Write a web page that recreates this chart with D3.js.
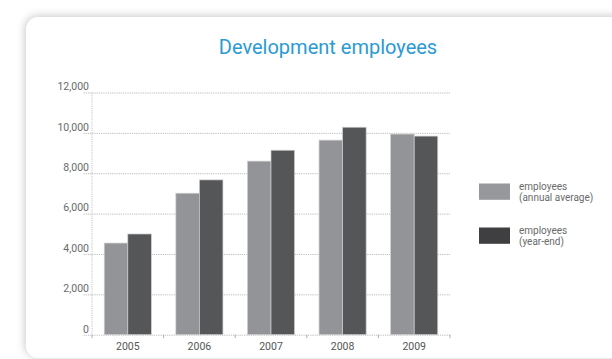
<!DOCTYPE html>
<html>
<head>
<meta charset="utf-8">
<script src="https://cdn.jsdelivr.net/npm/d3@7"></script>
<style>
  html, body { margin: 0; padding: 0; background: #ffffff; }
  svg { display: block; }
</style>
</head>
<body>
<svg id="chart" width="612" height="359"></svg>
<script>
// Development headcount per year
const years = ["2005", "2006", "2007", "2008", "2009"];
const annualAverage = [4540, 7010, 8600, 9640, 9940];
const yearEnd = [4990, 7670, 9140, 10280, 9840];
const yTicks = [0, 2000, 4000, 6000, 8000, 10000, 12000];
const seriesNames = [["employees", "(annual average)"], ["employees", "(year-end)"]];

const svg = d3.select("#chart");
const defs = svg.append("defs");

const shadow = defs.append("filter").attr("id", "cardShadow")
  .attr("x", "-10%").attr("y", "-10%").attr("width", "130%").attr("height", "130%");
shadow.append("feDropShadow")
  .attr("dx", -1).attr("dy", -1).attr("stdDeviation", 4)
  .attr("flood-color", "#000").attr("flood-opacity", 0.22);

// card panel
svg.append("rect")
  .attr("x", 26).attr("y", 17)
  .attr("width", 640).attr("height", 341)
  .attr("rx", 13).attr("ry", 13)
  .attr("fill", "#ffffff")
  .attr("filter", "url(#cardShadow)");

const font = "Roboto, 'Liberation Sans', sans-serif";
const textGray = "#6a6a6a";

// title
svg.append("text")
  .attr("x", 328).attr("y", 54)
  .attr("text-anchor", "middle")
  .attr("font-family", font)
  .attr("font-size", 20)
  .attr("fill", "#2b9ad4")
  .text("Development employees");

const plot = { left: 92, right: 450, top: 92.5, bottom: 334.7 };

const x = d3.scaleBand().domain(years).range([plot.left, plot.right]).paddingInner(0).paddingOuter(0);
const inner = d3.scaleBand().domain([0, 1]).range([0, x.bandwidth()]).paddingInner(0).paddingOuter(0.52);
const y = d3.scaleLinear().domain([0, 12000]).range([plot.bottom, plot.top]);

// horizontal gridlines with y labels
const yAxis = d3.axisLeft(y).tickValues(yTicks).tickSize(0).tickFormat(d3.format(","));
const gy = svg.append("g").attr("transform", `translate(${plot.left},0)`).call(yAxis);
gy.select(".domain").remove();
gy.selectAll(".tick text")
  .attr("x", -3).attr("dy", "-0.25em")
  .attr("font-family", font).attr("font-size", 10.5)
  .attr("fill", textGray);
gy.selectAll(".tick").append("line")
  .attr("x1", -8.5).attr("x2", plot.right - plot.left)
  .attr("stroke", "#a9a9a9").attr("stroke-width", 0.8)
  .attr("stroke-dasharray", "1.2,1");

// vertical dotted axis line
svg.append("line")
  .attr("x1", plot.left).attr("x2", plot.left)
  .attr("y1", plot.top).attr("y2", plot.bottom)
  .attr("stroke", "#c4c4c4").attr("stroke-width", 1)
  .attr("stroke-dasharray", "1.2,1");

// bars
const colors = ["#939497", "#555658"];
const groups = svg.append("g").selectAll("g")
  .data(years.map((yr, i) => ({ yr, vals: [annualAverage[i], yearEnd[i]] })))
  .join("g")
  .attr("transform", d => `translate(${x(d.yr)},0)`);
groups.selectAll("rect")
  .data(d => d.vals.map((v, k) => ({ v, k })))
  .join("rect")
  .attr("x", d => inner(d.k))
  .attr("width", inner.bandwidth())
  .attr("y", d => y(d.v))
  .attr("height", d => y(0) - y(d.v))
  .attr("fill", d => colors[d.k])
  .attr("stroke", "#cfcfcf")
  .attr("stroke-width", 0.7);

// bottom axis: band boundary ticks and year labels
const boundaries = d3.range(years.length + 1).map(i => plot.left + i * x.bandwidth());
svg.append("g").selectAll("line").data(boundaries).join("line")
  .attr("x1", d => d).attr("x2", d => d)
  .attr("y1", plot.bottom).attr("y2", plot.bottom + 3.5)
  .attr("stroke", "#9a9a9a").attr("stroke-width", 0.8);

const xAxis = d3.axisBottom(x).tickSize(0).tickPadding(0);
const gx = svg.append("g").attr("transform", `translate(0,${plot.bottom})`).call(xAxis);
gx.select(".domain").remove();
gx.selectAll(".tick text")
  .attr("y", 15).attr("dy", 0)
  .attr("font-family", font).attr("font-size", 10.5)
  .attr("fill", "#555");

// legend
const legendColors = ["#97989b", "#3f3f41"];
const legend = svg.append("g").selectAll("g").data(seriesNames).join("g")
  .attr("transform", (d, i) => `translate(479,${183.5 + i * 44})`);
legend.append("rect")
  .attr("width", 31).attr("height", 16.3)
  .attr("fill", (d, i) => legendColors[i]);
legend.append("text")
  .attr("x", 40).attr("y", 6.5)
  .attr("font-family", font).attr("font-size", 10)
  .attr("fill", textGray)
  .selectAll("tspan").data(d => d).join("tspan")
  .attr("x", 40).attr("dy", (d, j) => j === 0 ? 0 : 10.5)
  .text(d => d);
</script>
</body>
</html>
